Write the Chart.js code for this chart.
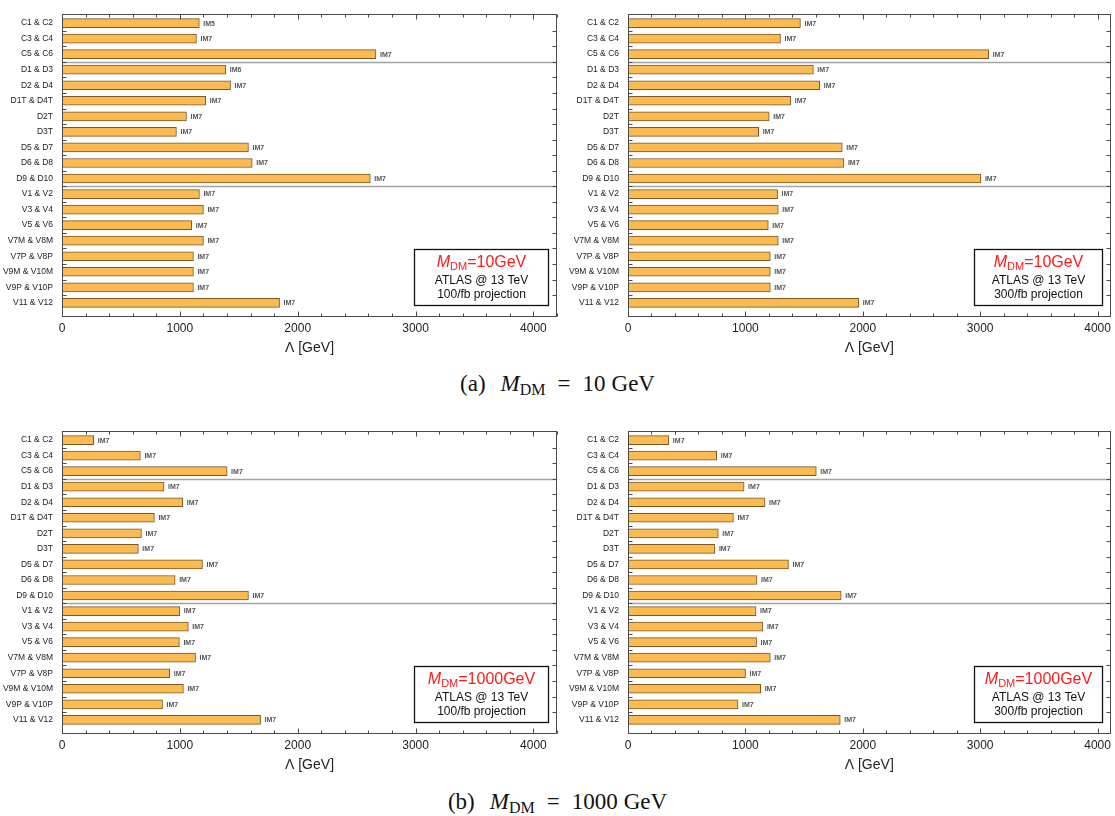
<!DOCTYPE html>
<html>
<head>
<meta charset="utf-8">
<script src="https://cdn.jsdelivr.net/npm/chart.js@4.4.1/dist/chart.umd.min.js"></script>
<style>
  html, body { margin: 0; padding: 0; background: #fff; }
  body { width: 1115px; height: 816px; position: relative; overflow: hidden; }
  .panel { position: absolute; }
  .cap { position: absolute; left: 0; width: 1115px; text-align: center; line-height: 26px;
         font-family: "Liberation Serif", "DejaVu Serif", serif; font-size: 23px; color: #111; }
  .cap sub { font-size: 16px; vertical-align: -4px; line-height: 0; }
  .cap .m { margin-left: 15px; }
  .cap .eq { margin: 0 12px; }
  .cap .u { margin-left: 6px; }
</style>
</head>
<body>
<canvas id="a100" class="panel" width="560" height="370" style="left:0;top:0"></canvas>
<canvas id="a300" class="panel" width="555" height="370" style="left:560px;top:0"></canvas>
<div class="cap" style="top:371px">(a)<i class="m">M</i><sub>DM</sub><span class="eq">=</span>10<span class="u">GeV</span></div>
<canvas id="b100" class="panel" width="560" height="370" style="left:0;top:417px"></canvas>
<canvas id="b300" class="panel" width="555" height="370" style="left:560px;top:417px"></canvas>
<div class="cap" style="top:789px">(b)<i class="m">M</i><sub>DM</sub><span class="eq">=</span>1000<span class="u">GeV</span></div>
<script>
// operator pairs, top to bottom
const categories = ['C1 & C2', 'C3 & C4', 'C5 & C6', 'D1 & D3', 'D2 & D4', 'D1T & D4T', 'D2T', 'D3T',
  'D5 & D7', 'D6 & D8', 'D9 & D10', 'V1 & V2', 'V3 & V4', 'V5 & V6', 'V7M & V8M', 'V7P & V8P',
  'V9M & V10M', 'V9P & V10P', 'V11 & V12'];
// group boundaries (between C / D / V blocks)
const separators = [2.5, 10.5];
const xTickValues = [0, 1000, 2000, 3000, 4000];

// Lambda reach [GeV]
const lambda10_100 = [1165, 1141, 2664, 1390, 1430, 1220, 1056, 971, 1582, 1614, 2616,
  1166, 1200, 1101, 1200, 1115, 1115, 1115, 1846];
const lambda10_300 = [1469, 1299, 3073, 1579, 1633, 1387, 1203, 1113, 1825, 1839, 3006,
  1274, 1280, 1195, 1280, 1212, 1212, 1212, 1966];
const lambda1000_100 = [269, 665, 1401, 866, 1025, 784, 674, 648, 1192, 960, 1582,
  1000, 1072, 996, 1133, 914, 1030, 853, 1685];
const lambda1000_300 = [348, 756, 1604, 989, 1167, 898, 769, 740, 1367, 1099, 1816,
  1091, 1149, 1095, 1212, 1001, 1130, 937, 1808];

// best model label next to each bar
const models10_100 = ['IM5', 'IM7', 'IM7', 'IM6', 'IM7', 'IM7', 'IM7', 'IM7', 'IM7', 'IM7', 'IM7',
  'IM7', 'IM7', 'IM7', 'IM7', 'IM7', 'IM7', 'IM7', 'IM7'];
const modelsAllIM7 = categories.map(() => 'IM7');

const FONT = '"Liberation Sans", Arial, Helvetica, sans-serif';
const barFill = '#FCBA52';
const barEdge = '#7A5820';

const framePlugin = {
  id: 'frame',
  beforeDatasetsDraw(chart) {
    const { ctx, chartArea: a, scales: { y } } = chart;
    ctx.save();
    ctx.strokeStyle = '#a3a3a3';
    ctx.lineWidth = 1.4;
    separators.forEach(v => {
      const py = Math.round(y.getPixelForValue(v)) + 0.5;
      ctx.beginPath(); ctx.moveTo(a.left, py); ctx.lineTo(a.right, py); ctx.stroke();
    });
    ctx.restore();
  },
  afterDatasetsDraw(chart) {
    const { ctx } = chart;
    const ds = chart.data.datasets[0];
    const meta = chart.getDatasetMeta(0);
    ctx.save();
    ctx.fillStyle = '#555';
    ctx.font = 'bold 7px ' + FONT;
    ctx.textBaseline = 'middle';
    ctx.textAlign = 'left';
    meta.data.forEach((bar, i) => ctx.fillText(ds.models[i], bar.x + 4, bar.y + 0.5));
    ctx.restore();
  },
  afterDraw(chart, args, opts) {
    const { ctx, chartArea: a, scales: { x, y } } = chart;
    ctx.save();
    ctx.strokeStyle = '#4a4a4a';
    ctx.lineWidth = 1;
    const L = Math.round(a.left) + 0.5, R = Math.round(a.right) - 0.5;
    const T = Math.round(a.top) + 0.5, B = Math.round(a.bottom) - 0.5;
    ctx.strokeRect(L, T, R - L, B - T);
    ctx.beginPath();
    for (let v = 0; v <= x.max; v += 200) {
      const px = Math.round(x.getPixelForValue(v)) + 0.5;
      const len = v % 1000 === 0 ? 5 : 3;
      ctx.moveTo(px, B); ctx.lineTo(px, B - len);
      ctx.moveTo(px, T); ctx.lineTo(px, T + len);
    }
    for (let i = 0; i < categories.length - 1; i++) {
      const py = Math.round(y.getPixelForValue(i + 0.5)) + 0.5;
      ctx.moveTo(L, py); ctx.lineTo(L + 4, py);
      ctx.moveTo(R, py); ctx.lineTo(R - 4, py);
    }
    ctx.stroke();

    // info box
    const w = opts.width, h = 56;
    const x1 = Math.round(a.right - 9 - w) + 0.5, y1 = Math.round(a.bottom - 12 - h) + 0.5;
    ctx.fillStyle = '#fff';
    ctx.fillRect(x1, y1, w, h);
    ctx.strokeStyle = '#111';
    ctx.lineWidth = 1.3;
    ctx.strokeRect(x1, y1, w, h);
    const cx = x1 + w / 2;
    const fBig = '16px ' + FONT, fIt = 'italic 16px ' + FONT, fSub = '11px ' + FONT;
    const rest = '=' + opts.mass;
    ctx.font = fIt; const wM = ctx.measureText('M').width;
    ctx.font = fSub; const wS = ctx.measureText('DM').width;
    ctx.font = fBig; const wR = ctx.measureText(rest).width;
    let tx = cx - (wM + wS + wR) / 2;
    const base1 = y1 + 17;
    ctx.fillStyle = '#ff1a1a';
    ctx.textAlign = 'left';
    ctx.textBaseline = 'alphabetic';
    ctx.font = fIt; ctx.fillText('M', tx, base1); tx += wM;
    ctx.font = fSub; ctx.fillText('DM', tx, base1 + 3); tx += wS;
    ctx.font = fBig; ctx.fillText(rest, tx, base1);
    ctx.fillStyle = '#111';
    ctx.textAlign = 'center';
    ctx.font = '12px ' + FONT;
    ctx.fillText('ATLAS @ 13 TeV', cx, y1 + 34.5);
    ctx.fillText(opts.lumi, cx, y1 + 48.5);
    ctx.restore();
  }
};

function makePanel(id, values, models, mass, lumi, cfg) {
  new Chart(document.getElementById(id), {
    type: 'bar',
    data: {
      datasets: [{
        data: values.map((v, i) => ({ x: v, y: i })),
        models: models,
        backgroundColor: barFill,
        borderColor: barEdge,
        borderWidth: 1,
        borderSkipped: false,
        barThickness: 9
      }]
    },
    options: {
      indexAxis: 'y',
      responsive: false,
      animation: false,
      devicePixelRatio: 1,
      layout: { padding: { top: 13, right: cfg.padRight, left: 0, bottom: 0 } },
      plugins: {
        legend: { display: false },
        tooltip: { enabled: false },
        frame: { mass: mass, lumi: lumi, width: cfg.boxWidth }
      },
      scales: {
        x: {
          type: 'linear', min: 0, max: cfg.xMax,
          grid: { display: false, drawTicks: false },
          border: { display: false },
          afterBuildTicks: s => { s.ticks = xTickValues.map(v => ({ value: v })); },
          ticks: {
            padding: 4, maxRotation: 0, autoSkip: false,
            color: '#222', font: { family: FONT, size: 12 },
            callback: v => String(v)
          },
          title: {
            display: true, text: 'Λ [GeV]', color: '#222',
            font: { family: FONT, size: 14 }, padding: { top: 4, bottom: 13.6 }
          },
          afterFit: s => { s.height = 53; }
        },
        y: {
          type: 'linear', reverse: true, offset: false, min: -0.577, max: 18.91,
          grid: { display: false, drawTicks: false },
          border: { display: false },
          afterBuildTicks: s => { s.ticks = categories.map((c, i) => ({ value: i })); },
          ticks: {
            autoSkip: false, padding: 9,
            color: '#222', font: { family: FONT, size: 8.5 },
            callback: v => categories[v] ?? ''
          },
          afterFit: s => { s.width = cfg.axisWidth; }
        }
      }
    },
    plugins: [framePlugin]
  });
}

const leftCfg = { xMax: 4200, axisWidth: 62, padRight: 3, boxWidth: 134 };
const rightCfg = { xMax: 4110, axisWidth: 68, padRight: 2, boxWidth: 128 };

makePanel('a100', lambda10_100, models10_100, '10GeV', '100/fb projection', leftCfg);
makePanel('a300', lambda10_300, modelsAllIM7, '10GeV', '300/fb projection', rightCfg);
makePanel('b100', lambda1000_100, modelsAllIM7, '1000GeV', '100/fb projection', leftCfg);
makePanel('b300', lambda1000_300, modelsAllIM7, '1000GeV', '300/fb projection', rightCfg);
</script>
</body>
</html>
